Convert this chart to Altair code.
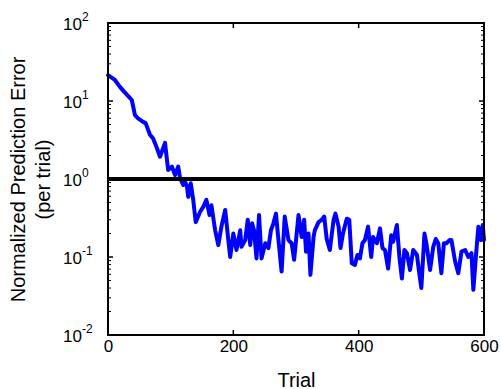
import altair as alt
import pandas as pd

# ---- data ----
trials = [0, 11, 19, 26, 33, 38, 43, 48, 56, 60, 67, 72, 78, 83, 91, 96, 102, 107, 112,
          115, 120, 123, 126, 128, 132, 136, 140, 147, 152, 157, 162, 165, 171, 176, 181,
          187, 192, 195, 200, 205, 211, 213, 219, 223, 227, 230, 233, 237, 241, 245, 251,
          256, 260, 264, 268, 272, 277, 282, 288, 293, 297, 304, 309, 313, 316, 320, 323,
          328, 330, 336, 341, 345, 349, 354, 360, 363, 368, 371, 375, 381, 385, 389, 394,
          398, 402, 406, 410, 415, 420, 423, 429, 434, 438, 442, 447, 452, 455, 461, 465,
          469, 473, 477, 482, 487, 493, 496, 500, 505, 508, 514, 519, 523, 527, 532, 536,
          540, 545, 548, 554, 559, 564, 570, 575, 580, 583, 587, 591, 595, 598, 600]
errors = [21.5, 18.6, 15.2, 13.1, 11.4, 10.3, 6.6, 6.0, 5.4, 5.2, 3.7, 3.3, 2.5, 1.93, 2.9,
          1.30, 1.44, 1.12, 1.44, 1.03, 0.84, 0.92, 0.80, 0.59, 0.88, 0.54, 0.28, 0.38, 0.44,
          0.54, 0.345, 0.46, 0.22, 0.142, 0.245, 0.40, 0.165, 0.10, 0.20, 0.123, 0.22, 0.135,
          0.165, 0.30, 0.142, 0.27, 0.22, 0.096, 0.345, 0.096, 0.15, 0.13, 0.22, 0.27, 0.36,
          0.165, 0.065, 0.33, 0.165, 0.15, 0.092, 0.345, 0.18, 0.30, 0.117, 0.20, 0.059,
          0.18, 0.22, 0.28, 0.30, 0.33, 0.17, 0.123, 0.30, 0.36, 0.245, 0.13, 0.20, 0.31,
          0.30, 0.083, 0.079, 0.106, 0.096, 0.15, 0.165, 0.245, 0.10, 0.18, 0.15, 0.233,
          0.13, 0.123, 0.071, 0.19, 0.157, 0.257, 0.10, 0.053, 0.123, 0.112, 0.068, 0.123,
          0.106, 0.068, 0.040, 0.20, 0.15, 0.068, 0.135, 0.17, 0.15, 0.062, 0.15, 0.15,
          0.165, 0.165, 0.087, 0.062, 0.117, 0.123, 0.10, 0.112, 0.038, 0.10, 0.245, 0.165,
          0.257, 0.165]
threshold = [1.0]
x_ticks = [0, 200, 400, 600]
y_exponents = [-2, -1, 0, 1, 2]
minor_multipliers = [2, 3, 4, 5, 6, 7, 8, 9]

FONT = "Liberation Sans"
W, H = 376, 312
INK = "#000000"

df = pd.DataFrame({"trial": trials, "error": errors})
thr_df = pd.DataFrame({"error": threshold})
xt_df = pd.DataFrame({"trial": x_ticks})
major_df = pd.DataFrame({"error": [10.0 ** e for e in y_exponents],
                         "base": ["10"] * len(y_exponents),
                         "sup": [str(e) for e in y_exponents]})
minor_df = pd.DataFrame({"error": [m * 10.0 ** e for e in y_exponents[:-1] for m in minor_multipliers]})

xscale = alt.Scale(domain=[0, 600], nice=False, zero=False)
yscale = alt.Scale(type="log", domain=[0.01, 100], nice=False)

xaxis = alt.Axis(values=x_ticks, ticks=False, domain=False, grid=False,
                 labelFont=FONT, labelFontSize=17, labelColor="black",
                 labelPadding=16, labelBaseline="alphabetic", labelFlush=False,
                 title="Trial", titleFont=FONT, titleFontSize=20,
                 titleFontWeight="normal", titleColor="black",
                 titleY=51, titleBaseline="alphabetic")
yaxis = alt.Axis(values=[10.0 ** e for e in y_exponents], labels=False, ticks=False,
                 domain=False, grid=False,
                 title=["Normalized Prediction Error", "(per trial)"],
                 titleFont=FONT, titleFontSize=20, titleFontWeight="normal",
                 titleColor="black", titleX=-80, titleY=156, titleAngle=-90,
                 titleAlign="center", titleBaseline="bottom", titleLineHeight=25)

X = alt.X("trial:Q", scale=xscale, axis=xaxis)
Y = alt.Y("error:Q", scale=yscale, axis=yaxis)

line = alt.Chart(df).mark_line(color="#0000ff", strokeWidth=4, strokeJoin="round",
                               strokeCap="round").encode(x=X, y=Y)
thr = alt.Chart(thr_df).mark_rule(color="black", strokeWidth=4).encode(y=Y)


# inward tick marks drawn as filled ticks (positions come from the scales)
def yticks(data, length, side, thick):
    xpos = length / 2 if side == "left" else W - length / 2
    return alt.Chart(data).mark_tick(color=INK, fill=INK, opacity=1, thickness=thick,
                                     size=length, orient="horizontal").encode(
        y=Y, x=alt.value(xpos))


def xticks(side, length=5):
    ypos = H - length / 2 if side == "bottom" else length / 2
    return alt.Chart(xt_df).mark_tick(color=INK, fill=INK, opacity=1, thickness=1.5,
                                      size=length, orient="vertical").encode(
        x=X, y=alt.value(ypos))


# plot box as four filled strips
def edge(x, x2, y, y2):
    return alt.Chart(thr_df).mark_rect(fill=INK, opacity=1, strokeWidth=0).encode(
        x=alt.value(x), x2=alt.value(x2), y=alt.value(y), y2=alt.value(y2))


frame = [edge(-1, W + 1, -1, 1), edge(-1, W + 1, H - 1, H + 1),
         edge(-1, 1, -1, H + 1), edge(W - 1, W + 1, -1, H + 1)]

base_lbl = alt.Chart(major_df).mark_text(align="right", baseline="middle", font=FONT,
                                         fontSize=17, color="black", dy=2).encode(
    y=Y, x=alt.value(-26), text="base:N")
sup_lbl = alt.Chart(major_df).mark_text(align="left", baseline="middle", font=FONT,
                                        fontSize=12, color="black", dy=-6).encode(
    y=Y, x=alt.value(-26), text="sup:N")

chart = alt.layer(
    line, thr,
    yticks(major_df, 5, "left", 1.5), yticks(major_df, 5, "right", 1.5),
    yticks(minor_df, 3, "left", 1), yticks(minor_df, 3, "right", 1),
    xticks("bottom"), xticks("top"),
    *frame, base_lbl, sup_lbl,
).properties(
    width=W, height=H,
    padding={"left": 108, "top": 23, "right": 17, "bottom": 54},
    autosize=alt.AutoSizeParams(type="none"),
    background="white",
).configure_view(stroke=None)

chart.save("out.html", embed_options={"renderer": "svg", "actions": False})
